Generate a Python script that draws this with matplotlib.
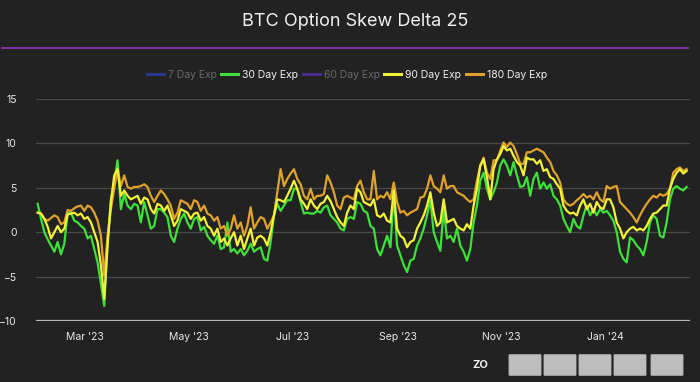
import numpy as np
import pandas as pd
import matplotlib
matplotlib.use("Agg")
import matplotlib.pyplot as plt
import matplotlib.dates as mdates
from matplotlib.lines import Line2D
from matplotlib.patches import FancyBboxPatch

plt.rcParams['font.family'] = ['Inter', 'DejaVu Sans']

# roughly every 2 days, Feb 1 2023 -> Feb 18 2024
exp_30 = [3.2, 1.5, 0.0, -0.8, -1.5, -2.2, -1.1, -2.5, -1.3, 2.2,
          2.2, 1.3, 1.1, 0.7, 0.4, -0.7, -0.4, -1.9, -3.4, -5.8,
          -8.3, -1.1, 3.7, 5.6, 8.1, 2.6, 4.3, 3.0, 2.6, 3.2,
          3.0, 1.1, 3.4, 1.9, 0.4, 0.7, 2.6, 2.6, 2.2, 1.7,
          -0.4, -1.1, 0.4, 1.5, 2.1, 1.1, 0.4, 1.5, 1.7, 0.2,
          0.6, -0.4, -0.9, -1.3, -0.4, -1.9, -1.7, 1.1, -2.2, -1.9,
          -2.4, -1.9, -2.6, -2.1, -1.3, -2.2, -1.9, -1.7, -3.0, -3.2,
          -1.1, 1.9, 3.2, 2.4, 3.0, 3.6, 3.6, 4.9, 4.9, 3.4,
          2.1, 2.2, 2.1, 2.1, 2.4, 2.2, 2.8, 3.0, 1.9, 1.5,
          1.1, 0.4, 0.2, 1.5, 1.7,
          1.5, 3.4, 3.2, 2.4, 2.2, 0.7, 0.4, -1.9, -2.6, -1.5,
          -0.4, -1.7, 4.5, -1.5, -2.6, -3.7, -4.5, -3.2, -3.0, -1.5,
          -0.7, 0.4, 1.9, 3.6, 0.0, -1.1, -2.1, 2.6, -0.7, -0.4,
          -1.1, 0.4, -1.5, -2.2, -3.2, -1.9, 1.1, 3.0, 5.8, 6.7,
          4.9, 3.7, 4.5, 5.6, 7.5, 8.2, 7.5, 6.4, 7.9, 6.4,
          5.1, 5.2, 6.2, 4.1, 6.0, 6.7, 4.9, 5.6, 4.9, 5.4,
          4.1, 3.7, 3.0, 1.5, 0.7, 0.0, 1.5, 0.7, 0.4, 1.9,
          3.0, 1.9, 2.6, 1.9, 2.6, 2.2, 2.4, 1.9, 1.3, 0.0,
          -2.2, -3.0, -3.4, -0.6, -0.9, -1.5, -1.9, -2.6, -1.1, 1.1,
          1.9, 1.5, -0.4, -0.6, 1.1, 3.7, 4.9, 5.2, 4.9, 4.7,
          5.1]

exp_90 = [2.2, 2.1, 1.5, 0.6, -0.7, 0.0, 0.7, 0.0, 0.4, 2.0,
          2.1, 2.2, 1.9, 2.1, 1.5, 1.7, 1.1, 0.0, -1.1, -3.7,
          -7.5, -1.5, 3.4, 6.4, 7.1, 4.1, 4.7, 4.1, 3.7, 3.9,
          4.1, 3.2, 3.9, 3.7, 2.6, 2.1, 3.2, 3.0, 2.4, 3.0,
          1.9, 0.7, 1.3, 2.6, 2.4, 2.2, 1.5, 2.1, 2.2, 1.3,
          1.7, 0.7, 0.4, -0.4, 0.4, -1.1, -0.7, -1.5, -0.7, 0.0,
          -1.5, -0.4, -1.9, -0.7, 0.4, -1.5, -0.6, -0.4, -0.7, -1.5,
          0.0, 1.9, 3.7, 3.6, 3.4, 4.1, 4.9, 5.8, 4.9, 3.7,
          3.2, 2.6, 3.7, 3.0, 2.6, 3.2, 3.4, 4.1, 3.5, 2.6,
          1.7, 1.1, 0.7, 2.2, 3.0,
          2.6, 4.9, 4.5, 3.4, 3.2, 3.0, 3.7, 1.9, 1.7, 2.1,
          1.3, 1.1, 4.7, 0.4, -0.4, -0.7, -1.7, -1.1, -0.9, 0.4,
          1.1, 1.9, 3.0, 4.5, 2.2, 0.7, 1.1, 3.7, 1.1, 1.3,
          1.5, 0.7, 0.4, 0.2, 0.9, 0.4, 3.0, 4.9, 7.5, 8.2,
          6.2, 3.7, 7.1, 8.2, 8.8, 9.7, 9.2, 9.4, 8.6, 7.9,
          7.5, 6.4, 8.4, 8.2, 8.2, 7.7, 8.1, 6.9, 7.1, 6.2,
          6.0, 5.4, 4.9, 3.0, 2.4, 2.1, 2.2, 1.9, 3.0, 3.7,
          2.6, 3.2, 2.2, 3.4, 2.8, 2.6, 3.7, 3.7, 2.8, 1.1,
          0.4, -0.7, 0.0, 0.4, 0.6, 0.2, 0.4, 0.2, 0.7, 1.5,
          2.1, 2.2, 2.6, 3.0, 3.0, 4.9, 6.0, 6.7, 7.1, 6.6,
          6.9]

exp_180 = [2.2, 2.1, 1.5, 1.3, 1.6, 1.9, 1.7, 0.9, 1.1, 2.5,
           2.4, 2.7, 2.9, 3.0, 2.4, 3.0, 2.8, 2.2, 1.3, -0.4,
           -4.9, -0.4, 2.6, 4.9, 7.1, 5.2, 6.4, 5.1, 4.9, 5.1,
           5.1, 5.2, 5.4, 5.1, 4.1, 3.4, 4.1, 4.7, 4.3, 3.7,
           3.0, 1.5, 2.2, 3.6, 3.4, 3.2, 2.6, 3.6, 3.4, 2.4,
           3.0, 2.1, 1.9, 1.3, 1.7, 0.4, 0.7, -0.4, 0.4, 1.9,
           0.4, 1.1, -0.4, 0.7, 2.8, 0.4, 1.1, 1.7, 1.5, 0.4,
           1.1, 1.9, 4.5, 7.1, 5.2, 6.0, 6.6, 7.1, 6.0, 5.4,
           4.1, 3.7, 4.9, 3.7, 4.1, 4.1, 4.3, 6.4, 5.6, 4.5,
           3.0, 2.6, 3.9, 4.1, 3.9,
           3.7, 5.2, 5.8, 4.5, 3.7, 3.7, 6.9, 3.7, 4.1, 3.9,
           4.5, 3.7, 5.6, 3.4, 2.2, 2.4, 1.9, 2.2, 2.4, 2.6,
           3.9, 4.0, 4.9, 6.4, 5.2, 4.9, 4.5, 6.4, 4.9, 5.2,
           5.2, 4.5, 4.3, 4.1, 3.7, 3.4, 3.7, 5.8, 7.5, 8.4,
           6.7, 6.0, 8.1, 8.1, 9.2, 10.1, 9.6, 10.1, 9.7, 8.8,
           7.7, 7.7, 9.0, 9.0, 9.2, 9.4, 9.2, 9.0, 8.4, 7.9,
           6.9, 6.4, 5.6, 3.7, 3.2, 3.0, 3.2, 3.6, 3.9, 4.3,
           3.9, 4.1, 3.7, 4.5, 3.7, 3.4, 5.2, 4.9, 5.1, 5.2,
           3.4, 3.0, 2.6, 2.2, 1.7, 1.1, 1.9, 2.6, 3.2, 3.7,
           4.1, 3.9, 4.3, 4.1, 4.3, 4.9, 6.7, 7.1, 7.3, 6.9,
           7.1]

dates = pd.date_range('2023-02-01', '2024-02-18', periods=len(exp_30))

legend_labels = ['7 Day Exp', '30 Day Exp', '60 Day Exp', '90 Day Exp', '180 Day Exp']
legend_colors = ['#2a3a8c', '#3ee03a', '#4a2a8c', '#f2f23a', '#e0a22c']
legend_active = [False, True, False, True, True]

y_ticks = [-10, -5, 0, 5, 10, 15]
month_ticks = ['2023-03-01', '2023-05-01', '2023-07-01', '2023-09-01', '2023-11-01', '2024-01-01']

bg = '#222222'
fig = plt.figure(figsize=(7.0, 3.82), dpi=100, facecolor=bg)
ax = fig.add_axes([36 / 700, 1 - 321 / 382, 654 / 700, 222 / 382])
ax.set_facecolor(bg)

ax.plot(dates, exp_180, color=legend_colors[4], lw=1.6, zorder=3)
ax.plot(dates, exp_90, color=legend_colors[3], lw=1.6, zorder=4)
ax.plot(dates, exp_30, color=legend_colors[1], lw=1.6, zorder=2)

ax.set_ylim(-10, 15)
ax.set_xlim(pd.Timestamp('2023-01-31'), pd.Timestamp('2024-02-20'))
ax.set_yticks(y_ticks)
for v in y_ticks[1:]:
    ax.axhline(v, color='#4a4a4a', lw=0.9, zorder=1)
ax.axhline(-10, color='#b8b8b8', lw=1.6, zorder=1)

ax.set_xticks(pd.to_datetime(month_ticks))
ax.xaxis.set_major_formatter(mdates.DateFormatter("%b '%y"))
ax.tick_params(axis='both', length=0, colors='#e8e8e8', labelsize=7.5)
ax.tick_params(axis='y', pad=14)
ax.tick_params(axis='x', pad=8)
for s in ax.spines.values():
    s.set_visible(False)

# title and purple rule
fig.text(355 / 700, 1 - 22 / 382, 'BTC Option Skew Delta 25', ha='center', va='center',
         color='#f0f0f0', fontsize=13)
fig.add_artist(Line2D([2 / 700, 688 / 700], [1 - 48 / 382] * 2, color='#9a2fc4', lw=1.2))

handles = [Line2D([], [], color=c, lw=2.2) for c in legend_colors]
leg = fig.legend(handles, legend_labels, loc='center', bbox_to_anchor=(347 / 700, 1 - 75 / 382),
                 ncol=5, frameon=False, fontsize=7.5, handlelength=1.6, handletextpad=0.4,
                 columnspacing=0.45)
for t, on in zip(leg.get_texts(), legend_active):
    t.set_color('#f0f0f0' if on else '#6a6a6a')

# watermark bits at the bottom
fig.text(480 / 700, 1 - 365 / 382, 'ZO', ha='center', va='center', color='#f0f0f0',
         fontsize=8, fontweight='bold')
for x0 in [510, 545, 580, 615, 652]:
    fig.add_artist(FancyBboxPatch((x0 / 700, 1 - 375 / 382), 30 / 700, 20 / 382,
                                  boxstyle='round,pad=0.002', transform=fig.transFigure,
                                  facecolor='#cfcfcf', edgecolor='none', alpha=0.9))

fig.savefig('out.png', dpi=100, facecolor=bg)
